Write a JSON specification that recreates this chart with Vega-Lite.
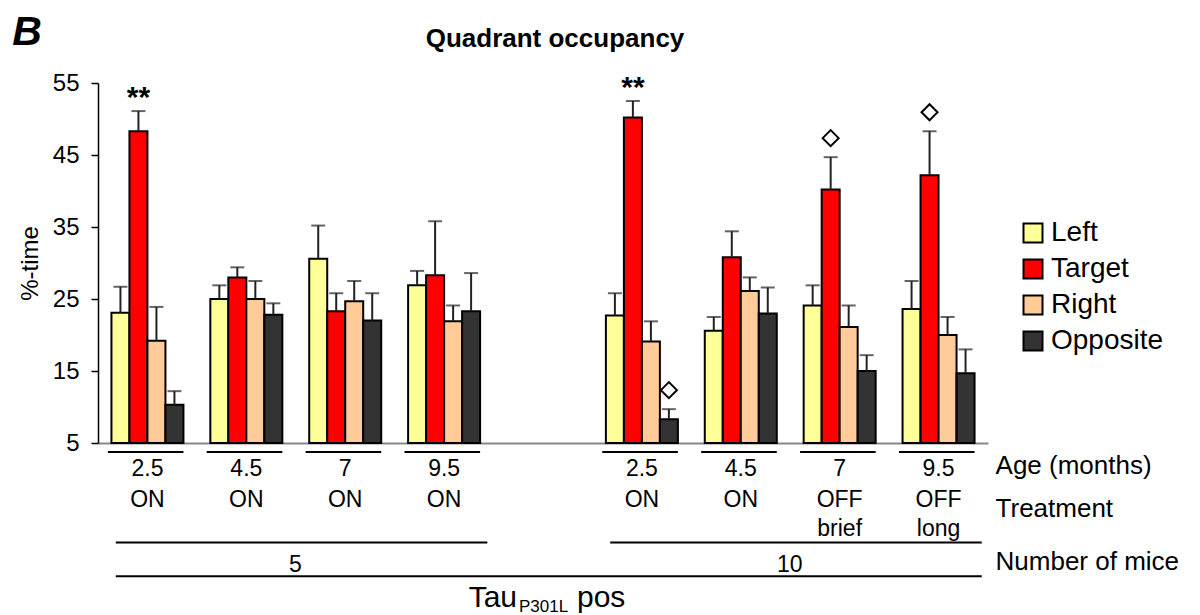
{
  "$schema": "https://vega.github.io/schema/vega-lite/v6.json",
  "background": "white",
  "padding": {"left": 12, "top": 12, "right": 5, "bottom": 0},
  "config": {"font": "Liberation Sans", "view": {"stroke": null}},
  "title": {"text": "B", "anchor": "start", "fontSize": 41, "fontStyle": "italic", "fontWeight": "bold", "font": "Liberation Sans", "color": "black", "dx": -6, "dy": 28, "offset": 0},
  "bounds": "flush",
  "spacing": 9,
  "resolve": {"scale": {"color": "independent"}},
  "datasets": {
    "bars": [
      {"group": "g1", "quadrant": "Left", "value": 23.1, "upper": 26.7, "sig": ""},
      {"group": "g1", "quadrant": "Target", "value": 48.3, "upper": 51.1, "sig": "**"},
      {"group": "g1", "quadrant": "Right", "value": 19.2, "upper": 23.9, "sig": ""},
      {"group": "g1", "quadrant": "Opposite", "value": 10.3, "upper": 12.2, "sig": ""},
      {"group": "g2", "quadrant": "Left", "value": 25.0, "upper": 26.9, "sig": ""},
      {"group": "g2", "quadrant": "Target", "value": 28.0, "upper": 29.4, "sig": ""},
      {"group": "g2", "quadrant": "Right", "value": 25.0, "upper": 27.5, "sig": ""},
      {"group": "g2", "quadrant": "Opposite", "value": 22.8, "upper": 24.4, "sig": ""},
      {"group": "g3", "quadrant": "Left", "value": 30.6, "upper": 35.2, "sig": ""},
      {"group": "g3", "quadrant": "Target", "value": 23.3, "upper": 25.8, "sig": ""},
      {"group": "g3", "quadrant": "Right", "value": 24.7, "upper": 27.5, "sig": ""},
      {"group": "g3", "quadrant": "Opposite", "value": 22.0, "upper": 25.8, "sig": ""},
      {"group": "g4", "quadrant": "Left", "value": 26.9, "upper": 28.9, "sig": ""},
      {"group": "g4", "quadrant": "Target", "value": 28.3, "upper": 35.8, "sig": ""},
      {"group": "g4", "quadrant": "Right", "value": 21.9, "upper": 24.1, "sig": ""},
      {"group": "g4", "quadrant": "Opposite", "value": 23.3, "upper": 28.6, "sig": ""},
      {"group": "g5", "quadrant": "Left", "value": 22.7, "upper": 25.8, "sig": ""},
      {"group": "g5", "quadrant": "Target", "value": 50.2, "upper": 52.5, "sig": "**"},
      {"group": "g5", "quadrant": "Right", "value": 19.1, "upper": 21.9, "sig": ""},
      {"group": "g5", "quadrant": "Opposite", "value": 8.3, "upper": 9.7, "sig": "diamond"},
      {"group": "g6", "quadrant": "Left", "value": 20.6, "upper": 22.5, "sig": ""},
      {"group": "g6", "quadrant": "Target", "value": 30.8, "upper": 34.4, "sig": ""},
      {"group": "g6", "quadrant": "Right", "value": 26.1, "upper": 28.0, "sig": ""},
      {"group": "g6", "quadrant": "Opposite", "value": 23.0, "upper": 26.6, "sig": ""},
      {"group": "g7", "quadrant": "Left", "value": 24.1, "upper": 26.9, "sig": ""},
      {"group": "g7", "quadrant": "Target", "value": 40.2, "upper": 44.7, "sig": "diamond"},
      {"group": "g7", "quadrant": "Right", "value": 21.1, "upper": 24.1, "sig": ""},
      {"group": "g7", "quadrant": "Opposite", "value": 15.0, "upper": 17.2, "sig": ""},
      {"group": "g8", "quadrant": "Left", "value": 23.6, "upper": 27.5, "sig": ""},
      {"group": "g8", "quadrant": "Target", "value": 42.2, "upper": 48.3, "sig": "diamond"},
      {"group": "g8", "quadrant": "Right", "value": 20.0, "upper": 22.5, "sig": ""},
      {"group": "g8", "quadrant": "Opposite", "value": 14.7, "upper": 18.0, "sig": ""}
    ],
    "groups": [
      {"group": "g1", "age": "2.5", "treatment": "ON"},
      {"group": "g2", "age": "4.5", "treatment": "ON"},
      {"group": "g3", "age": "7", "treatment": "ON"},
      {"group": "g4", "age": "9.5", "treatment": "ON"},
      {"group": "g5", "age": "2.5", "treatment": "ON"},
      {"group": "g6", "age": "4.5", "treatment": "ON"},
      {"group": "g7", "age": "7", "treatment": "OFF\nbrief"},
      {"group": "g8", "age": "9.5", "treatment": "OFF\nlong"}
    ],
    "cohorts": [
      {"n": "5", "from": "g1", "to": "g4", "mid": "g2"},
      {"n": "10", "from": "g5", "to": "g8", "mid": "g6"}
    ],
    "genotype": [
      {"name": "Tau", "sub": "P301L", "suffix": "pos", "from": "g1", "to": "g8", "center": "gap"}
    ],
    "rowlabels": [
      {"label": "Age (months)", "row": "age"},
      {"label": "Treatment", "row": "treat"},
      {"label": "Number of mice", "row": "n"}
    ]
  },
  "vconcat": [
    {
      "width": 890,
      "height": 360,
      "title": {"text": "Quadrant occupancy", "fontSize": 26, "fontWeight": "bold", "font": "Liberation Sans", "color": "black", "anchor": "middle", "frame": "group", "dx": 12, "offset": -2, "baseline": "alphabetic"},
      "data": {"name": "bars"},
      "encoding": {
        "x": {"field": "group", "type": "nominal", "scale": {"domain": ["g1", "g2", "g3", "g4", "gap", "g5", "g6", "g7", "g8"], "paddingInner": 0.272, "paddingOuter": 0.136}, "axis": {"labels": false, "ticks": false, "title": null, "domainColor": "#888888", "domainWidth": 2, "grid": false}},
        "xOffset": {"field": "quadrant", "type": "nominal", "scale": {"domain": ["Left", "Target", "Right", "Opposite"], "paddingInner": 0, "paddingOuter": 0}}
      },
      "layer": [
        {
          "mark": {"type": "bar", "stroke": "black", "strokeWidth": 2},
          "encoding": {
            "y": {"field": "value", "type": "quantitative", "title": "%-time", "scale": {"domain": [5, 55], "nice": false, "zero": false},
              "axis": {"values": [5, 10, 15, 20, 25, 30, 35, 40, 45, 50, 55], "labelExpr": "datum.value % 10 == 5 ? datum.label : ''", "labelOverlap": false, "labelFontSize": 24, "labelColor": "black", "labelPadding": 12, "tickSize": 7, "tickColor": "black", "tickWidth": 1.5, "domainColor": "black", "domainWidth": 1.5, "titleFontSize": 24, "titleFontWeight": "normal", "titleColor": "black", "titlePadding": 10, "grid": false}},
            "y2": {"datum": 5},
            "color": {"field": "quadrant", "type": "nominal", "scale": {"domain": ["Left", "Target", "Right", "Opposite"], "range": ["#FFFF99", "#FF0000", "#FFCC99", "#333333"]},
              "legend": {"title": null, "orient": "none", "legendX": 921, "legendY": 136, "symbolType": "square", "symbolSize": 361, "symbolStrokeColor": "black", "symbolStrokeWidth": 2, "symbolOpacity": 1, "labelFontSize": 28, "labelFont": "Liberation Sans", "labelColor": "black", "labelOffset": 4, "rowPadding": 8, "padding": 0}}
          }
        },
        {
          "mark": {"type": "rule", "color": "#222222", "strokeWidth": 2},
          "encoding": {"y": {"field": "value", "type": "quantitative", "title": "%-time"}, "y2": {"field": "upper"}}
        },
        {
          "mark": {"type": "tick", "color": "#222222", "size": 14, "thickness": 2},
          "encoding": {"y": {"field": "upper", "type": "quantitative", "title": "%-time"}}
        },
        {
          "transform": [{"filter": "datum.sig == '**'"}],
          "mark": {"type": "text", "fontSize": 30, "fontWeight": "bold", "baseline": "alphabetic", "align": "center", "color": "black", "dy": -4},
          "encoding": {"y": {"field": "upper", "type": "quantitative", "title": "%-time"}, "text": {"field": "sig"}}
        },
        {
          "transform": [{"filter": "datum.sig == 'diamond'"}],
          "mark": {"type": "point", "shape": "diamond", "filled": false, "stroke": "black", "strokeWidth": 2, "size": 256, "yOffset": -19, "opacity": 1},
          "encoding": {"y": {"field": "upper", "type": "quantitative", "title": "%-time"}}
        }
      ]
    },
    {
      "width": 890,
      "height": 143,
      "layer": [
        {
          "data": {"name": "groups"},
          "mark": {"type": "rule", "color": "black", "strokeWidth": 2},
          "encoding": {
            "x": {"field": "group", "type": "nominal", "bandPosition": -0.05, "scale": {"domain": ["g1", "g2", "g3", "g4", "gap", "g5", "g6", "g7", "g8"], "paddingInner": 0.272, "paddingOuter": 0.136}, "axis": null},
            "x2": {"field": "group", "bandPosition": 1},
            "y": {"datum": "uline", "type": "nominal", "scale": {"type": "point", "domain": ["uline", "age", "treat", "nline", "n", "gline", "geno"], "padding": 0}, "axis": null}
          }
        },
        {
          "data": {"name": "groups"},
          "mark": {"type": "text", "fontSize": 23, "baseline": "alphabetic", "align": "center", "color": "black"},
          "encoding": {
            "x": {"field": "group", "type": "nominal", "axis": null},
            "y": {"datum": "age", "type": "nominal", "axis": null},
            "text": {"field": "age"}
          }
        },
        {
          "data": {"name": "groups"},
          "mark": {"type": "text", "fontSize": 23, "baseline": "alphabetic", "align": "center", "color": "black", "lineBreak": "\n", "lineHeight": 29, "dy": 7},
          "encoding": {
            "x": {"field": "group", "type": "nominal", "axis": null},
            "y": {"datum": "treat", "type": "nominal", "axis": null},
            "text": {"field": "treatment"}
          }
        },
        {
          "data": {"name": "cohorts"},
          "mark": {"type": "rule", "color": "black", "strokeWidth": 2, "yOffset": 19},
          "encoding": {
            "x": {"field": "from", "type": "nominal", "bandPosition": 0.06, "axis": null},
            "x2": {"field": "to", "bandPosition": 1.1},
            "y": {"datum": "nline", "type": "nominal", "axis": null}
          }
        },
        {
          "data": {"name": "cohorts"},
          "mark": {"type": "text", "fontSize": 23, "baseline": "alphabetic", "align": "center", "color": "black", "dy": 25},
          "encoding": {
            "x": {"field": "mid", "type": "nominal", "bandPosition": 1.18, "axis": null},
            "y": {"datum": "n", "type": "nominal", "axis": null},
            "text": {"field": "n"}
          }
        },
        {
          "data": {"name": "genotype"},
          "mark": {"type": "rule", "color": "black", "strokeWidth": 2, "yOffset": 5},
          "encoding": {
            "x": {"field": "from", "type": "nominal", "bandPosition": 0.06, "axis": null},
            "x2": {"field": "to", "bandPosition": 1.1},
            "y": {"datum": "gline", "type": "nominal", "axis": null}
          }
        },
        {
          "data": {"name": "genotype"},
          "mark": {"type": "text", "fontSize": 30, "baseline": "alphabetic", "align": "right", "color": "black", "dx": -26, "dy": 12},
          "encoding": {
            "x": {"field": "center", "type": "nominal", "axis": null},
            "y": {"datum": "geno", "type": "nominal", "axis": null},
            "text": {"field": "name"}
          }
        },
        {
          "data": {"name": "genotype"},
          "mark": {"type": "text", "fontSize": 17, "baseline": "alphabetic", "align": "left", "color": "black", "dx": -24, "dy": 17},
          "encoding": {
            "x": {"field": "center", "type": "nominal", "axis": null},
            "y": {"datum": "geno", "type": "nominal", "axis": null},
            "text": {"field": "sub"}
          }
        },
        {
          "data": {"name": "genotype"},
          "mark": {"type": "text", "fontSize": 30, "baseline": "alphabetic", "align": "left", "color": "black", "dx": 34, "dy": 12},
          "encoding": {
            "x": {"field": "center", "type": "nominal", "axis": null},
            "y": {"datum": "geno", "type": "nominal", "axis": null},
            "text": {"field": "suffix"}
          }
        },
        {
          "data": {"name": "rowlabels"},
          "transform": [{"filter": "datum.row == 'age'"}],
          "mark": {"type": "text", "fontSize": 26, "baseline": "alphabetic", "align": "left", "color": "black", "dx": 21, "dy": -1.5},
          "encoding": {
            "x": {"datum": "g8", "type": "nominal", "bandPosition": 1, "axis": null},
            "y": {"field": "row", "type": "nominal", "axis": null},
            "text": {"field": "label"}
          }
        },
        {
          "data": {"name": "rowlabels"},
          "transform": [{"filter": "datum.row == 'treat'"}],
          "mark": {"type": "text", "fontSize": 26, "baseline": "alphabetic", "align": "left", "color": "black", "dx": 21, "dy": 17},
          "encoding": {
            "x": {"datum": "g8", "type": "nominal", "bandPosition": 1, "axis": null},
            "y": {"field": "row", "type": "nominal", "axis": null},
            "text": {"field": "label"}
          }
        },
        {
          "data": {"name": "rowlabels"},
          "transform": [{"filter": "datum.row == 'n'"}],
          "mark": {"type": "text", "fontSize": 26, "baseline": "alphabetic", "align": "left", "color": "black", "dx": 21, "dy": 23},
          "encoding": {
            "x": {"datum": "g8", "type": "nominal", "bandPosition": 1, "axis": null},
            "y": {"field": "row", "type": "nominal", "axis": null},
            "text": {"field": "label"}
          }
        }
      ]
    }
  ]
}
